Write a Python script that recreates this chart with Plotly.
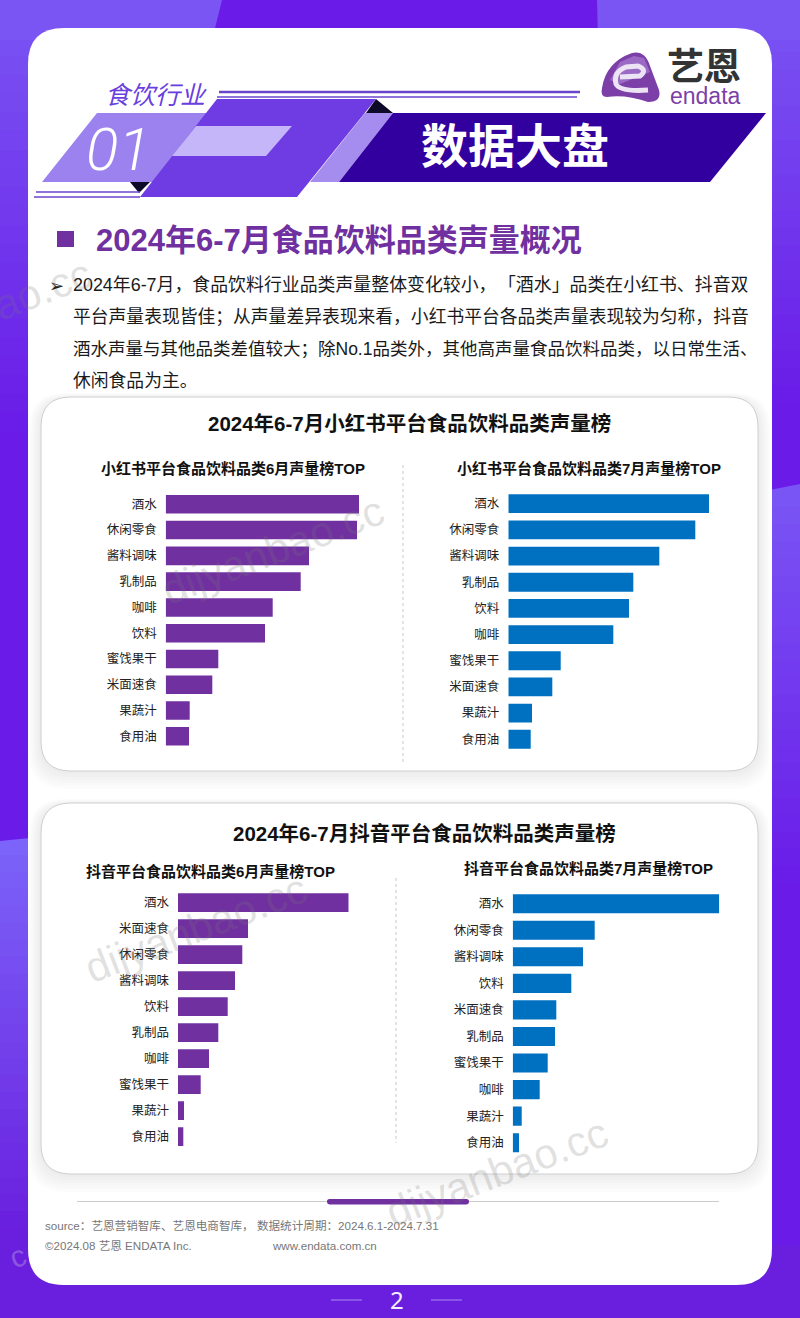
import plotly.graph_objects as go

W, H = 800, 1318

# bar lengths (no axis in the original, so relative units)
xhs_jun_cats = ['酒水', '休闲零食', '酱料调味', '乳制品', '咖啡', '饮料', '蜜饯果干', '米面速食', '果蔬汁', '食用油']
xhs_jun_vals = [193.3, 191.3, 143.3, 135, 107, 99.3, 52.6, 46.6, 24, 23.3]
xhs_jul_cats = ['酒水', '休闲零食', '酱料调味', '乳制品', '饮料', '咖啡', '蜜饯果干', '米面速食', '果蔬汁', '食用油']
xhs_jul_vals = [200.7, 187, 151, 125, 120.7, 105, 52.4, 44, 23.7, 22.4]
dy_jun_cats = ['酒水', '米面速食', '休闲零食', '酱料调味', '饮料', '乳制品', '咖啡', '蜜饯果干', '果蔬汁', '食用油']
dy_jun_vals = [170.7, 70, 64.3, 57, 49.7, 40.3, 31, 22.7, 6, 5.3]
dy_jul_cats = ['酒水', '休闲零食', '酱料调味', '饮料', '米面速食', '乳制品', '蜜饯果干', '咖啡', '果蔬汁', '食用油']
dy_jul_vals = [206.6, 82, 70.3, 58.6, 43.6, 42.3, 35, 27, 9, 6.3]

# hair space after the comma stops the browser trimming the ，「 pair
body_lines = [
    '2024年6-7月，食品饮料行业品类声量整体变化较小，\u200a「酒水」品类在小红书、抖音双',
    '平台声量表现皆佳；从声量差异表现来看，小红书平台各品类声量表现较为匀称，抖音',
    '酒水声量与其他品类差值较大；除No.1品类外，其他高声量食品饮料品类，以日常生活、',
    '休闲食品为主。',
]
body_sizes = [17.9, 17.8, 17.5, 17.8]

PURPLE = '#7030a0'
BLUE = '#0070c0'
CJK = 'Liberation Sans, Noto Sans CJK SC'

shapes = []
annos = []


def px(x):
    return x / W


def py_(y):
    return 1 - y / H


def poly(points, color, **kw):
    d = 'M ' + ' L '.join('%.5f %.5f' % (px(x), py_(y)) for x, y in points) + ' Z'
    shapes.append(dict(type='path', path=d, xref='paper', yref='paper', fillcolor=color,
                       line=dict(width=0), layer='below', **kw))


def pt(x, y):
    return '%.5f %.5f' % (px(x), py_(y))


def round_rect(x0, y0, x1, y1, r, fill, line=None, lw=0):
    d = ('M ' + pt(x0 + r, y0) + ' L ' + pt(x1 - r, y0) + ' Q ' + pt(x1, y0) + ' ' + pt(x1, y0 + r)
         + ' L ' + pt(x1, y1 - r) + ' Q ' + pt(x1, y1) + ' ' + pt(x1 - r, y1)
         + ' L ' + pt(x0 + r, y1) + ' Q ' + pt(x0, y1) + ' ' + pt(x0, y1 - r)
         + ' L ' + pt(x0, y0 + r) + ' Q ' + pt(x0, y0) + ' ' + pt(x0 + r, y0) + ' Z')
    shapes.append(dict(type='path', path=d, xref='paper', yref='paper', fillcolor=fill,
                       line=dict(width=lw, color=line or 'rgba(0,0,0,0)'), layer='below'))


def seg(x0, y0, x1, y1, color, w, dash=None):
    shapes.append(dict(type='line', xref='paper', yref='paper', x0=px(x0), x1=px(x1), y0=py_(y0), y1=py_(y1),
                       line=dict(color=color, width=w, dash=dash), layer='below'))


def txt(x, y, s, size, color='#1a1a1a', anchor='left', bold=False, family=CJK, italic=False, angle=0, weight=None):
    annos.append(dict(x=px(x), y=py_(y), xref='paper', yref='paper', text='<b>%s</b>' % s if bold else s,
                      showarrow=False, xanchor=anchor, yanchor='middle', textangle=angle,
                      font=dict(size=size, color=color, family=family, style='italic' if italic else 'normal',
                                weight=weight if weight else 'normal'),
                      borderpad=0, borderwidth=0))


### page background
def mix(a, b, t):
    return 'rgb(%d,%d,%d)' % tuple(a[i] + (b[i] - a[i]) * t for i in range(3))


def fade(x0, x1, y0, y1, c0, c1, slope=0, n=24):
    # vertical fade made of thin bands, slope tilts the top edge only
    for i in range(n):
        a = y0 + (y1 - y0) * i / n
        b = y0 + (y1 - y0) * (i + 1) / n + 1
        top_l, top_r = (a + slope, a - slope) if i == 0 else (a, a)
        poly([(x0, top_l), (x1, top_r), (x1, b), (x0, b)], mix(c0, c1, i / (n - 1)))


DARK = (106, 27, 232)
LIGHT = (122, 85, 243)
poly([(0, 0), (W, 0), (W, H), (0, H)], 'rgb(106,27,232)')
fade(0, 60, 0, 450, LIGHT, DARK)
fade(0, 60, 838, 1245, (124, 100, 250), (106, 30, 222), slope=3)
fade(740, 800, 0, 420, LIGHT, DARK)
fade(740, 800, 490, 900, (122, 85, 245), DARK, slope=6)
poly([(0, 1245), (W, 1245), (W, H), (0, H)], 'rgb(106,30,222)')
# top band either side of the dark blob
poly([(0, 0), (222, 0), (212, 40), (0, 40)], 'rgb(122,85,243)')
poly([(597, 0), (W, 0), (W, 40), (598, 40)], 'rgb(122,85,243)')

### white page
round_rect(28, 28, 772, 1285, 36, 'white')

### header graphics
poly([(42, 182), (97, 113), (210, 113), (155, 182)], '#9c82ef')
poly([(310, 182), (365, 113), (393, 113), (339, 182)], '#a58def')
poly([(339, 182), (393, 113), (766, 113), (710, 182)], '#3300a0')
poly([(366, 113), (376, 99), (393, 113)], '#0c0a28')
poly([(130, 182), (150, 182), (139, 193)], '#0c0a28')
poly([(140, 197), (217, 99), (376, 99), (297, 197)], '#6f3be2')
poly([(172, 156), (196, 126), (292, 126), (266, 156)], '#c4b6f8')
seg(219, 92, 580, 92, '#6a45cc', 2.4)
seg(217, 97, 577, 97, '#6a45cc', 1.4)
seg(36, 192, 140, 192, '#6a45cc', 1.6)
seg(34, 197, 140, 197, '#6a45cc', 1.6)
txt(156, 95, '食饮行业', 25, '#6a3fe0', 'center', italic=True)
txt(118, 150, '01', 60, 'white', 'center', family='Roboto', italic=True, weight=300)
txt(515, 147, '数据大盘', 47, 'white', 'center', bold=True)

### logo
blob = ('M ' + pt(602, 88) + ' Q ' + pt(606, 62) + ' ' + pt(632, 53) + ' Q ' + pt(645, 50) + ' ' + pt(650, 66)
        + ' L ' + pt(659, 90) + ' Q ' + pt(662, 102) + ' ' + pt(648, 102) + ' Q ' + pt(625, 94) + ' ' + pt(607, 97)
        + ' Q ' + pt(600, 97) + ' ' + pt(602, 88) + ' Z')
shapes.append(dict(type='path', path=blob, xref='paper', yref='paper', fillcolor='#7c3fa8', line=dict(width=0), layer='below'))
poly([(620, 62), (634, 56), (644, 58), (650, 72), (620, 84), (610, 80)], '#9a6ac4')
e_mark = ('M ' + pt(620, 77) + ' L ' + pt(640, 76) + ' Q ' + pt(648, 70) + ' ' + pt(638, 66) + ' L ' + pt(626, 67)
          + ' Q ' + pt(613, 72) + ' ' + pt(616, 84) + ' Q ' + pt(620, 92) + ' ' + pt(648, 90))
shapes.append(dict(type='path', path=e_mark, xref='paper', yref='paper', fillcolor='rgba(0,0,0,0)',
                   line=dict(width=5, color='#ece3f4'), layer='below'))
txt(704, 67, '艺恩', 37, '#333333', 'center', bold=True)
txt(705, 96, 'endata', 23, '#7c3fa8', 'center', family='Liberation Sans')

### section title and body
poly([(57, 231), (74, 231), (74, 247), (57, 247)], PURPLE)
txt(96, 240, '2024年6-7月食品饮料品类声量概况', 31, PURPLE, bold=True)
txt(57, 285, '➢', 18, '#111111', 'center', family='DejaVu Sans')
for i, line in enumerate(body_lines):
    txt(73, 285 + 32 * i, line, body_sizes[i], '#1a1a1a')

### cards
for y0, y1 in [(397, 771), (803, 1174)]:
    for k in range(7):
        round_rect(41 - k * 2, y0 - k + 2, 758 + k * 2, y1 + k * 3, 30 + k, 'rgba(0,0,0,0.012)')
    round_rect(41, y0, 758, y1, 30, 'white', '#cfcfcf', 1)
seg(403, 465, 403, 762, '#c8c8c8', 1, 'dot')
seg(396, 878, 396, 1143, '#c8c8c8', 1, 'dot')
txt(409, 424, '2024年6-7月小红书平台食品饮料品类声量榜', 20.5, '#111111', 'center', bold=True)
txt(424.5, 833, '2024年6-7月抖音平台食品饮料品类声量榜', 20.5, '#111111', 'center', bold=True)
txt(233, 469, '小红书平台食品饮料品类6月声量榜TOP', 15, '#111111', 'center', bold=True)
txt(589, 469, '小红书平台食品饮料品类7月声量榜TOP', 15, '#111111', 'center', bold=True)
txt(210, 871, '抖音平台食品饮料品类6月声量榜TOP', 15, '#111111', 'center', bold=True)
txt(588.5, 868, '抖音平台食品饮料品类7月声量榜TOP', 15, '#111111', 'center', bold=True)

### footer
seg(77, 1201.5, 719, 1201.5, '#cccccc', 1)
round_rect(327, 1199, 469, 1204.5, 2.5, PURPLE)
txt(45, 1225, 'source：艺恩营销智库、艺恩电商智库， 数据统计周期：2024.6.1-2024.7.31', 11.6, '#777777')
txt(45, 1245, '©2024.08 艺恩 ENDATA Inc.', 11.6, '#777777')
txt(272, 1245, 'www.endata.com.cn', 11.6, '#777777')
txt(397, 1299, '2', 24, '#f4eefc', 'center', family='Noto Sans')
seg(331, 1300, 362, 1300, '#a98cf0', 1)
seg(431, 1300, 462, 1300, '#a98cf0', 1)

### watermarks
wm = 'rgba(120,120,120,0.22)'
for x, y in [(272, 550), (195, 928), (496, 1172), (-20, 314)]:
    txt(x, y, 'dijyanbao.cc', 42, wm, 'center', family='Liberation Sans', angle=-21)
txt(17, 1256, 'c', 30, 'rgba(200,190,230,0.35)', 'center', family='Liberation Sans', angle=-21)

### bars
fig = go.Figure()
panels = [
    (xhs_jun_cats, xhs_jun_vals, PURPLE, 165.7, 504.3, 736.3),
    (xhs_jul_cats, xhs_jul_vals, BLUE, 508.3, 503.7, 739.3),
    (dy_jun_cats, dy_jun_vals, PURPLE, 178, 902.7, 1136.7),
    (dy_jul_cats, dy_jul_vals, BLUE, 512.7, 903.7, 1142.7),
]
layout_axes = {}
for i, (cats, vals, color, left, y_first, y_last) in enumerate(panels):
    n = i + 1
    fig.add_trace(go.Bar(x=vals, y=cats, orientation='h', marker=dict(color=color, line=dict(width=0)),
                         width=0.72, xaxis='x%d' % n, yaxis='y%d' % n, showlegend=False))
    step = (y_last - y_first) / (len(cats) - 1)
    layout_axes['xaxis%d' % n] = dict(domain=[px(left), px(left + vals[0])], range=[0, vals[0]], visible=False,
                                      anchor='y%d' % n, fixedrange=True)
    layout_axes['yaxis%d' % n] = dict(domain=[py_(y_last + step / 2), py_(y_first - step / 2)],
                                      autorange=False, range=[len(cats) - 0.5, -0.5], categoryorder='array',
                                      categoryarray=cats, anchor='x%d' % n, showgrid=False, zeroline=False,
                                      showline=False, ticks='', ticklabelstandoff=8,
                                      tickfont=dict(size=12.5, color='#222222', family=CJK))

fig.update_layout(width=W, height=H, margin=dict(l=0, r=0, t=0, b=0), paper_bgcolor='white',
                  plot_bgcolor='rgba(0,0,0,0)', shapes=shapes, annotations=annos, **layout_axes)

fig.write_html("out.html", post_script="document.body.style.margin='0';", config={'displayModeBar': False})
